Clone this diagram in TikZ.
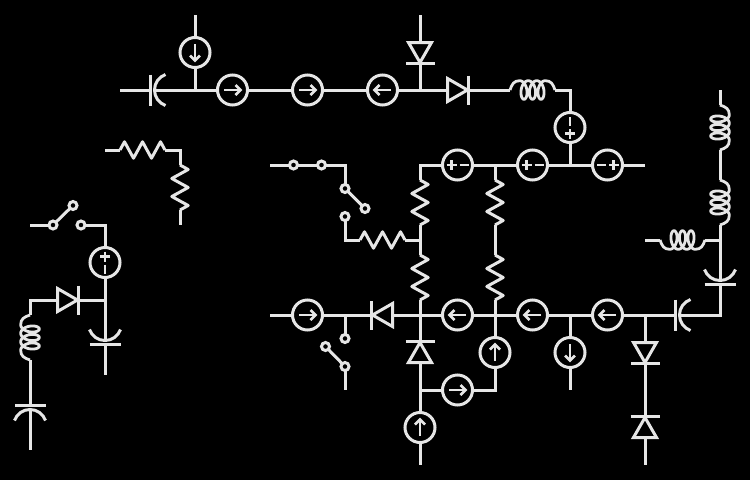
\documentclass[tikz,border=0pt]{standalone}
\definecolor{ink}{HTML}{E6E6E6}
\tikzset{
  x=1pt,y=-1pt,
  wire/.style={draw=ink,line width=3pt,line join=miter},
  port/.style={inner sep=0pt,outer sep=0pt,minimum height=0pt,minimum width=#1,draw=none},
  term/.style={circle,draw=ink,line width=3pt,fill=black,inner sep=0pt,outer sep=0pt,minimum size=8pt},
  pics/arrowsrc/.style={code={
    \draw[wire] (0,0) circle[radius=15pt];
    \draw[wire,line width=2.8pt] (-8.5,0)--(8,0);
    \draw[wire,line width=2.8pt] (3,-5)--(8,0)--(3,5);}},
  pics/pmsrc/.style={code={
    \draw[wire] (0,0) circle[radius=15pt];
    \draw[wire,line width=2.8pt] (-11,0)--(-1,0) (-6,-5)--(-6,5) (2,0)--(11,0);}},
  pics/diodesym/.style={code={
    \draw[wire] (-10,-11.5)--(10,0)--(-10,11.5)--cycle;
    \draw[wire] (11,-14.5)--(11,14.5);}},
  pics/capsym/.style={code={
    \draw[wire] (-7,-15.5)--(-7,15.5);
    \draw[wire] (8,-15.5) .. controls (1.4,-13.2) and (-3,-7) .. (-3,0) .. controls (-3,7) and (1.4,13.2) .. (8,15.5);
    \draw[wire] (-3,0)--(7,0);}},
  pics/ressym/.style={code={
    \draw[wire,line join=round] (-22.5,0)--(-18,-8.2)--(-9,8.2)--(0,-8.2)--(9,8.2)--(18,-8.2)--(22.5,0);}},
  pics/coilsym/.style={code={
    \draw[wire,line width=2.8pt] (-22.5,0) .. controls (-20.5,-6) and (-18.5,-9.3) .. (-12.75,-9.3)
      plot[domain=0:18.85,samples=120,smooth] ({-12.75+1.353*\x+5*sin(\x r)},{-9.3*cos(\x r)})
      .. controls (18.5,-9.3) and (20.5,-6) .. (22.5,0);}},
}
\newcommand{\partsym}[6]{\node[port=#6,rotate=#4] (#1) at (#2,#3) {};\pic[rotate=#4] at (#2,#3) {#5};}
\begin{document}
\begin{tikzpicture}
\useasboundingbox (0,0) rectangle (750,480);
\fill[black] (0,0) rectangle (750,480);
% coordinates
\foreach \n/\x/\y in {w1/120/90,j1/195/90,w2/195/15,j2/420/90,w3/420/15,c2/570/90,j3/570/165,j4/495/165,c3/420/165,e1/645/165,
  j5/420/240,j6/420/315,c4/345/240,j7/495/315,c5/495/390,j8/420/390,e2/420/465,e3/270/315,j9/345/315,j10/570/315,j11/645/315,
  c6/720/315,j12/720/240,e4/720/90,e5/645/240,e6/570/390,e7/645/465,e8/345/390,e9/270/165,c7/345/165,e10/105/150,c8/180/150,
  e11/180/225,e12/30/225,c9/105/225,j13/105/300,e13/105/375,c10/30/300,e14/30/450}
  {\coordinate (\n) at (\x,\y);}
% top row
\partsym{capA}{157.5}{90}{0}{capsym}{14pt}
\partsym{sA}{195}{52.5}{-90}{arrowsrc}{30pt}
\partsym{sB}{232.5}{90}{0}{arrowsrc}{30pt}
\partsym{sC}{307.5}{90}{0}{arrowsrc}{30pt}
\partsym{sD}{382.5}{90}{180}{arrowsrc}{30pt}
\partsym{dA}{420}{52.5}{-90}{diodesym}{22pt}
\partsym{dB}{457.5}{90}{0}{diodesym}{22pt}
\partsym{lA}{532.5}{90}{0}{coilsym}{45pt}
% second row
\partsym{pA}{570}{127.5}{90}{pmsrc}{30pt}
\partsym{pB}{532.5}{165}{0}{pmsrc}{30pt}
\partsym{pC}{457.5}{165}{0}{pmsrc}{30pt}
\partsym{pD}{607.5}{165}{180}{pmsrc}{30pt}
% resistors
\partsym{rA}{420}{202.5}{-90}{ressym}{45pt}
\partsym{rB}{420}{277.5}{-90}{ressym}{45pt}
\partsym{rC}{382.5}{240}{0}{ressym}{45pt}
\partsym{rD}{495}{202.5}{-90}{ressym}{45pt}
\partsym{rE}{495}{277.5}{-90}{ressym}{45pt}
\partsym{rF}{142.5}{150}{0}{ressym}{45pt}
\partsym{rG}{180}{187.5}{-90}{ressym}{45pt}
% bottom row
\partsym{sE}{307.5}{315}{0}{arrowsrc}{30pt}
\partsym{dC}{382.5}{315}{180}{diodesym}{22pt}
\partsym{sF}{457.5}{315}{180}{arrowsrc}{30pt}
\partsym{sG}{532.5}{315}{180}{arrowsrc}{30pt}
\partsym{sH}{607.5}{315}{180}{arrowsrc}{30pt}
\partsym{capB}{682.5}{315}{0}{capsym}{14pt}
\partsym{capC}{720}{277.5}{90}{capsym}{14pt}
\partsym{lB}{720}{202.5}{-90}{coilsym}{45pt}
\partsym{lC}{720}{127.5}{-90}{coilsym}{45pt}
\partsym{lD}{682.5}{240}{180}{coilsym}{45pt}
\partsym{sI}{495}{352.5}{90}{arrowsrc}{30pt}
\partsym{sJ}{457.5}{390}{0}{arrowsrc}{30pt}
\partsym{sK}{420}{427.5}{90}{arrowsrc}{30pt}
\partsym{dD}{420}{352.5}{90}{diodesym}{22pt}
\partsym{sL}{570}{352.5}{-90}{arrowsrc}{30pt}
\partsym{dE}{645}{352.5}{-90}{diodesym}{22pt}
\partsym{dF}{645}{427.5}{90}{diodesym}{22pt}
% left group
\partsym{pE}{105}{262.5}{-90}{pmsrc}{30pt}
\partsym{capD}{105}{337.5}{90}{capsym}{14pt}
\partsym{dG}{67.5}{300}{0}{diodesym}{22pt}
\partsym{lE}{30}{337.5}{90}{coilsym}{45pt}
\partsym{capE}{30}{412.5}{-90}{capsym}{14pt}
% switch terminals
\node[term] (t1) at (293.5,165) {};
\node[term] (t2) at (321.5,165) {};
\node[term] (t3) at (345,188.5) {};
\node[term] (t4) at (345,216.5) {};
\node[term] (t8) at (365,208.5) {};
\node[term] (t5) at (345,338.5) {};
\node[term] (t6) at (345,366.5) {};
\node[term] (t7) at (325.5,346.5) {};
\node[term] (t9) at (53,225) {};
\node[term] (t10) at (73,205.5) {};
\node[term] (t11) at (81,225) {};
% connectors
\draw[wire] (w1)--(capA.west);
\draw[wire] (capA.east)--(j1)--(sB.west);
\draw[wire] (j1)--(sA.east);
\draw[wire] (sA.west)--(w2);
\draw[wire] (sB.east)--(sC.west);
\draw[wire] (sC.east)--(sD.east);
\draw[wire] (sD.west)--(j2)--(dB.west);
\draw[wire] (j2)--(dA.east);
\draw[wire] (dA.west)--(w3);
\draw[wire] (dB.east)--(lA.west);
\draw[wire] (lA.east)--(c2)--(pA.east);
\draw[wire] (pA.west)--(j3);
\draw[wire] (j3)--(pB.east);
\draw[wire] (pB.west)--(j4)--(pC.east);
\draw[wire] (pC.west)--(c3)--(rA.west);
\draw[wire] (rA.east)--(j5)--(rB.west);
\draw[wire] (rB.east)--(j6);
\draw[wire] (j5)--(rC.east);
\draw[wire] (rC.west)--(c4)--(t4);
\draw[wire] (j3)--(pD.east);
\draw[wire] (pD.west)--(e1);
\draw[wire] (j4)--(rD.west);
\draw[wire] (rD.east)--(rE.west);
\draw[wire] (rE.east)--(j7)--(sI.east);
\draw[wire] (sI.west)--(c5)--(sJ.east);
\draw[wire] (sJ.west)--(j8);
\draw[wire] (j6)--(dD.east);
\draw[wire] (dD.west)--(j8)--(sK.east);
\draw[wire] (sK.west)--(e2);
\draw[wire] (e3)--(sE.west);
\draw[wire] (sE.east)--(j9)--(dC.east);
\draw[wire] (dC.west)--(j6)--(sF.east);
\draw[wire] (sF.west)--(j7)--(sG.east);
\draw[wire] (sG.west)--(j10)--(sH.east);
\draw[wire] (sH.west)--(j11)--(capB.west);
\draw[wire] (capB.east)--(c6)--(capC.west);
\draw[wire] (capC.east)--(j12)--(lB.east);
\draw[wire] (lB.west)--(lC.east);
\draw[wire] (lC.west)--(e4);
\draw[wire] (j12)--(lD.west);
\draw[wire] (lD.east)--(e5);
\draw[wire] (j10)--(sL.west);
\draw[wire] (sL.east)--(e6);
\draw[wire] (j11)--(dE.west);
\draw[wire] (dE.east)--(dF.east);
\draw[wire] (dF.west)--(e7);
\draw[wire] (j9)--(t5);
\draw[wire] (t6)--(t7);
\draw[wire] (t6)--(e8);
\draw[wire] (e9)--(t1);
\draw[wire] (t1)--(t2);
\draw[wire] (t2)--(c7)--(t3);
\draw[wire] (t3)--(t8);
\draw[wire] (e10)--(rF.west);
\draw[wire] (rF.east)--(c8)--(rG.west);
\draw[wire] (rG.east)--(e11);
\draw[wire] (e12)--(t9);
\draw[wire] (t9)--(t10);
\draw[wire] (t11)--(c9)--(pE.west);
\draw[wire] (pE.east)--(j13)--(capD.east);
\draw[wire] (capD.west)--(e13);
\draw[wire] (j13)--(dG.east);
\draw[wire] (dG.west)--(c10)--(lE.east);
\draw[wire] (lE.west)--(capE.west);
\draw[wire] (capE.east)--(e14);
\end{tikzpicture}
\end{document}
